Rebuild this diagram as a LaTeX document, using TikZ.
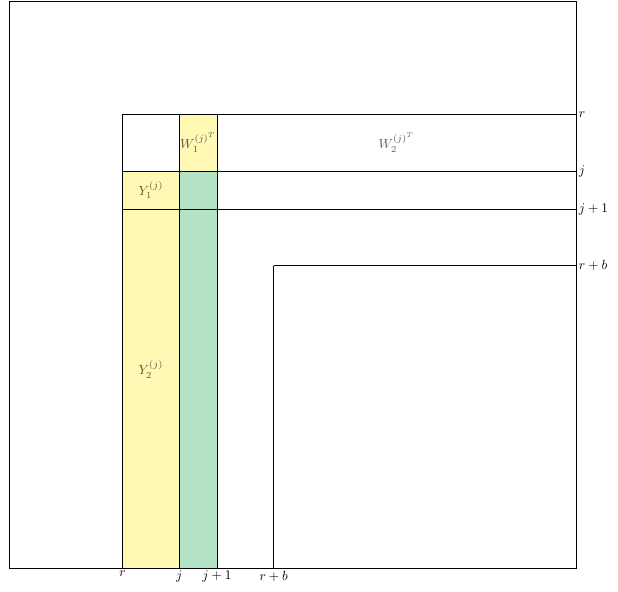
\documentclass[tikz,border=0pt]{standalone}
\definecolor{blockyellow}{RGB}{255,249,181}
\definecolor{blockgreen}{RGB}{180,226,199}
\begin{document}
\begin{tikzpicture}[
    lbl/.style={text opacity=0.65},
    tick/.style={}]
      \useasboundingbox (-0.24,0.03) rectangle (16.11,-15.63);
      % blocks
      \fill[blockyellow] (4.5,-3) rectangle (5.5,-4.5);
      \fill[blockyellow] (3,-4.5) rectangle (4.5,-15);
      \fill[blockgreen] (4.5,-4.5) rectangle (5.5,-15);
      % outer matrix
      \draw (0,0) rectangle (15,-15);
      \draw (3,-3) -- (15,-3);
      \draw (3,-4.5) -- (15,-4.5);
      \draw (3,-5.5) -- (15,-5.5);
      \draw (7,-7) -- (15,-7) (7,-7) -- (7,-15);
      \draw (3,-3) -- (3,-15);
      \draw (4.5,-3) -- (4.5,-15);
      \draw (5.5,-3) -- (5.5,-15);
      % labels
      \node[lbl] (w1) at (5,-3.75) {$W_1^{(j)^T}$};
      \node[lbl] (w2) at (10.25,-3.75) {$W_2^{(j)^T}$};
      \node[lbl] (y1) at (3.75,-5) {$Y_1^{(j)}$};
      \node[lbl] (y2) at (3.75,-9.75) {$Y_2^{(j)}$};
      \node[tick,anchor=west,inner sep=2pt] (rr) at (15,-3) {$r$};
      \node[tick,anchor=west,inner sep=2pt] (rj) at (15,-4.5) {$j$};
      \node[tick,anchor=west,inner sep=2pt] (rj1) at (15,-5.5) {$j+1$};
      \node[tick,anchor=west,inner sep=2pt] (rrb) at (15,-7) {$r+b$};
      \node[tick,anchor=north,inner sep=2pt] (cr) at (3,-15) {$r$};
      \node[tick,anchor=north,inner sep=2pt] (cj) at (4.5,-15) {$j$};
      \node[tick,anchor=north,inner sep=2pt] (cj1) at (5.5,-15) {$j+1$};
      \node[tick,anchor=north,inner sep=2pt] (crb) at (7,-15) {$r+b$};
    \end{tikzpicture}
\end{document}
